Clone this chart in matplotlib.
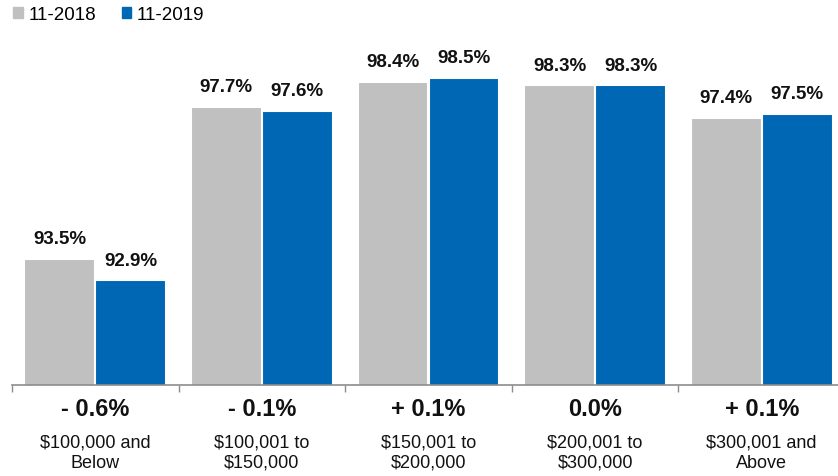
import matplotlib
matplotlib.use('Agg')
import matplotlib.pyplot as plt
from matplotlib.patches import Patch
import numpy as np

plt.rcParams['font.family'] = ['Liberation Sans', 'DejaVu Sans']

categories = ['$100,000 and\nBelow', '$100,001 to\n$150,000', '$150,001 to\n$200,000',
              '$200,001 to\n$300,000', '$300,001 and\nAbove']
vals_2018 = [93.5, 97.7, 98.4, 98.3, 97.4]
vals_2019 = [92.9, 97.6, 98.5, 98.3, 97.5]
changes = ['- 0.6%', '- 0.1%', '+ 0.1%', '0.0%', '+ 0.1%']
series_names = ['11-2018', '11-2019']

GREY = '#c0c0c0'
BLUE = '#0067b4'
W, H = 838, 477

fig = plt.figure(figsize=(W / 100, H / 100), dpi=100)
# axes runs a little past the right edge of the figure, like the original
ax = fig.add_axes([12 / W, (H - 386) / H, 833 / W, (386 - 25) / H])

x = np.arange(len(categories))
off = 0.213
bw = 0.425
ax.bar(x - off, vals_2018, bw, color=GREY, edgecolor='white', linewidth=1.5)
ax.bar(x + off, vals_2019, bw, color=BLUE, edgecolor='white', linewidth=1.5)

for xs, vs in ((x - off, vals_2018), (x + off, vals_2019)):
    for xi, v in zip(xs, vs):
        ax.annotate(f'{v:.1f}%', (xi, v), xytext=(0, 8.5), textcoords='offset points',
                    ha='center', va='bottom', fontsize=13.5, fontweight='bold', color='#111111')

ax.set_xlim(-0.5, len(categories) - 0.5)
ax.set_ylim(90, 100)

for s in ['top', 'right', 'left']:
    ax.spines[s].set_visible(False)
ax.spines['bottom'].set_color('#8c8c8c')
ax.spines['bottom'].set_linewidth(1.2)
ax.set_yticks([])
ax.set_xticks(np.arange(-0.5, len(categories), 1.0))
ax.set_xticklabels([])
ax.tick_params(axis='x', length=5, width=1, color='#8c8c8c', direction='out')

tr = ax.get_xaxis_transform()
ah = 386 - 25
for xi, ch, cat in zip(x, changes, categories):
    ax.text(xi, -(410 - 386) / ah, ch, transform=tr, ha='center', va='center',
            fontsize=17, fontweight='bold', color='#111111')
    ax.text(xi, -(453 - 386) / ah, cat, transform=tr, ha='center', va='center',
            fontsize=13, color='#111111', linespacing=1.28)

handles = [Patch(color=GREY), Patch(color=BLUE)]
fig.legend(handles, series_names, loc='upper left', bbox_to_anchor=(0.0, 1.012), ncol=2,
           frameon=False, fontsize=13.5, handlelength=0.5, handleheight=0.5,
           handletextpad=0.3, columnspacing=1.4, borderaxespad=0.3)

fig.savefig('out.png', dpi=100)
